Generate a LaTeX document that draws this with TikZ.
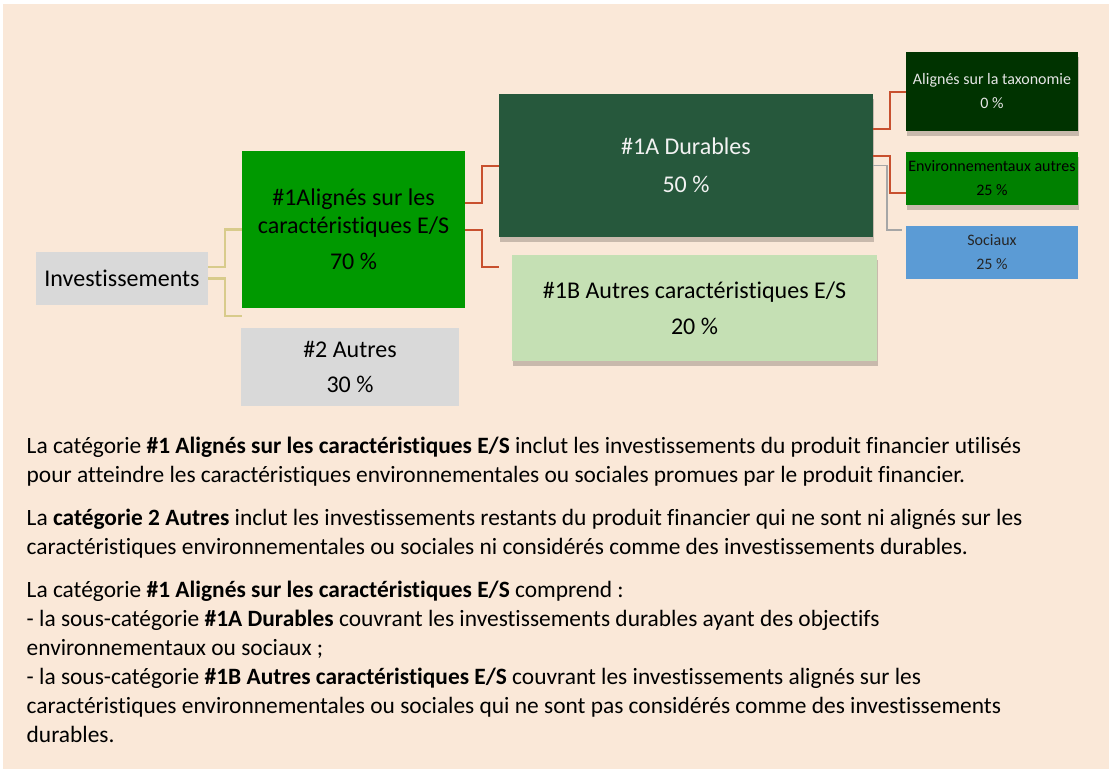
\documentclass[tikz,border=0pt]{standalone}
\usepackage{fontspec}
\setmainfont{Carlito}[Ligatures=NoCommon]
\usetikzlibrary{shadows}
\definecolor{bg}{HTML}{FAE8D8}
\definecolor{tanline}{HTML}{D8CB8B}
\definecolor{redline}{HTML}{C8502E}
\definecolor{grayline}{HTML}{A6A6A6}
\definecolor{boxgray}{HTML}{D9D9D9}
\definecolor{gone}{HTML}{009900}
\definecolor{dur}{HTML}{26583C}
\definecolor{lightg}{HTML}{C5E0B4}
\definecolor{taxc}{HTML}{003300}
\definecolor{envc}{HTML}{008000}
\definecolor{socc}{HTML}{5B9BD5}
\tikzset{
  box/.style={inner sep=0pt, outer sep=0pt, align=center, font=\fontsize{24}{28}\selectfont},
  smallbox/.style={inner sep=0pt, outer sep=0pt, align=center, font=\fontsize{16}{24}\selectfont, minimum width=172pt},
  shad/.style={drop shadow={shadow xshift=1pt, shadow yshift=-5pt, fill=black, opacity=0.2}},
  tanconn/.style={draw=tanline, line width=2.8pt},
  redconn/.style={draw=redline, line width=2pt},
  grayconn/.style={draw=grayline, line width=1.8pt},
  body/.style={anchor=base west, inner sep=0pt, font=\fontsize{23.4}{28.7}\selectfont, text=black}
}
\begin{document}
\begin{tikzpicture}[x=1pt,y=-1pt]
\useasboundingbox (0,0) rectangle (1112,769);
\fill[bg] (3,4) rectangle (1109,769);

% boxes
\node[box, fill=boxgray, minimum width=172pt, minimum height=53pt] (inv) at (122,278.5) {Investissements};
\node[box, fill=gone, minimum width=223pt, minimum height=157pt] (g1) at (353.5,229.5) {\#1Alignés sur les\\caractéristiques E/S\\[8pt]70 \%};
\node[box, fill=boxgray, minimum width=218pt, minimum height=78pt] (a2) at (350,367) {\#2 Autres\\[7pt]30 \%};
\node[box, shad, fill=dur, text=white!95!black, minimum width=374pt, minimum height=143pt] (d1a) at (686,165.5) {\#1A Durables\\[10pt]50 \%};
\node[box, shad, fill=lightg, minimum width=365pt, minimum height=106pt] (d1b) at (694.5,308) {\#1B Autres caractéristiques E/S\\[8pt]20 \%};
\node[smallbox, shad, fill=taxc, text=white!90!black, minimum height=79pt] (tax) at (992,91.5) {Alignés sur la taxonomie\\0 \%};
\node[smallbox, shad, fill=envc, text=black, minimum height=53pt] (env) at (992,178.5) {Environnementaux autres\\25 \%};
\node[smallbox, fill=socc, text=black!85, minimum height=53pt] (soc) at (992,252.5) {Sociaux\\25 \%};

% free ends
\coordinate (c2) at (242,316);
\coordinate (c3) at (499,267);
\coordinate (c6) at (902,230);

% connectors
\draw[tanconn] ([yshift=11.5pt]inv.east) -- ++(17,0) |- (g1.west);
\draw[tanconn] (inv.east) -- ++(17,0) |- (c2);
\draw[redconn] ([yshift=26.5pt]g1.east) -- ++(17,0) |- (d1a.west);
\draw[redconn] (g1.east) -- ++(17,0) |- (c3);
\draw[redconn] ([yshift=36.5pt]d1a.east) -- ++(17,0) |- (tax.west);
\draw[redconn] ([yshift=9.5pt]d1a.east) -- ++(17,0) |- ([yshift=-14.5pt]env.west);
\draw[grayconn] (d1a.east) -- ++(14,0) |- (c6);

% body text
\node[body] (p1a) at (26.5,453) {La catégorie \textbf{\#1 Alignés sur les caractéristiques E/S} inclut les investissements du produit financier utilisés};
\node[body] (p1b) at (26.5,482) {pour atteindre les caractéristiques environnementales ou sociales promues par le produit financier.};
\node[body] (p2a) at (26.5,525) {La \textbf{catégorie 2 Autres} inclut les investissements restants du produit financier qui ne sont ni alignés sur les};
\node[body] (p2b) at (26.5,554) {caractéristiques environnementales ou sociales ni considérés comme des investissements durables.};
\node[body] (p3a) at (26.5,597) {La catégorie \textbf{\#1 Alignés sur les caractéristiques E/S} comprend :};
\node[body] (p3b) at (26.5,626) {- la sous-catégorie \textbf{\#1A Durables} couvrant les investissements durables ayant des objectifs};
\node[body] (p3c) at (26.5,655) {environnementaux ou sociaux ;};
\node[body] (p3d) at (26.5,684) {- la sous-catégorie \textbf{\#1B Autres caractéristiques E/S} couvrant les investissements alignés sur les};
\node[body] (p3e) at (26.5,713) {caractéristiques environnementales ou sociales qui ne sont pas considérés comme des investissements};
\node[body] (p3f) at (26.5,742) {durables.};
\end{tikzpicture}
\end{document}
